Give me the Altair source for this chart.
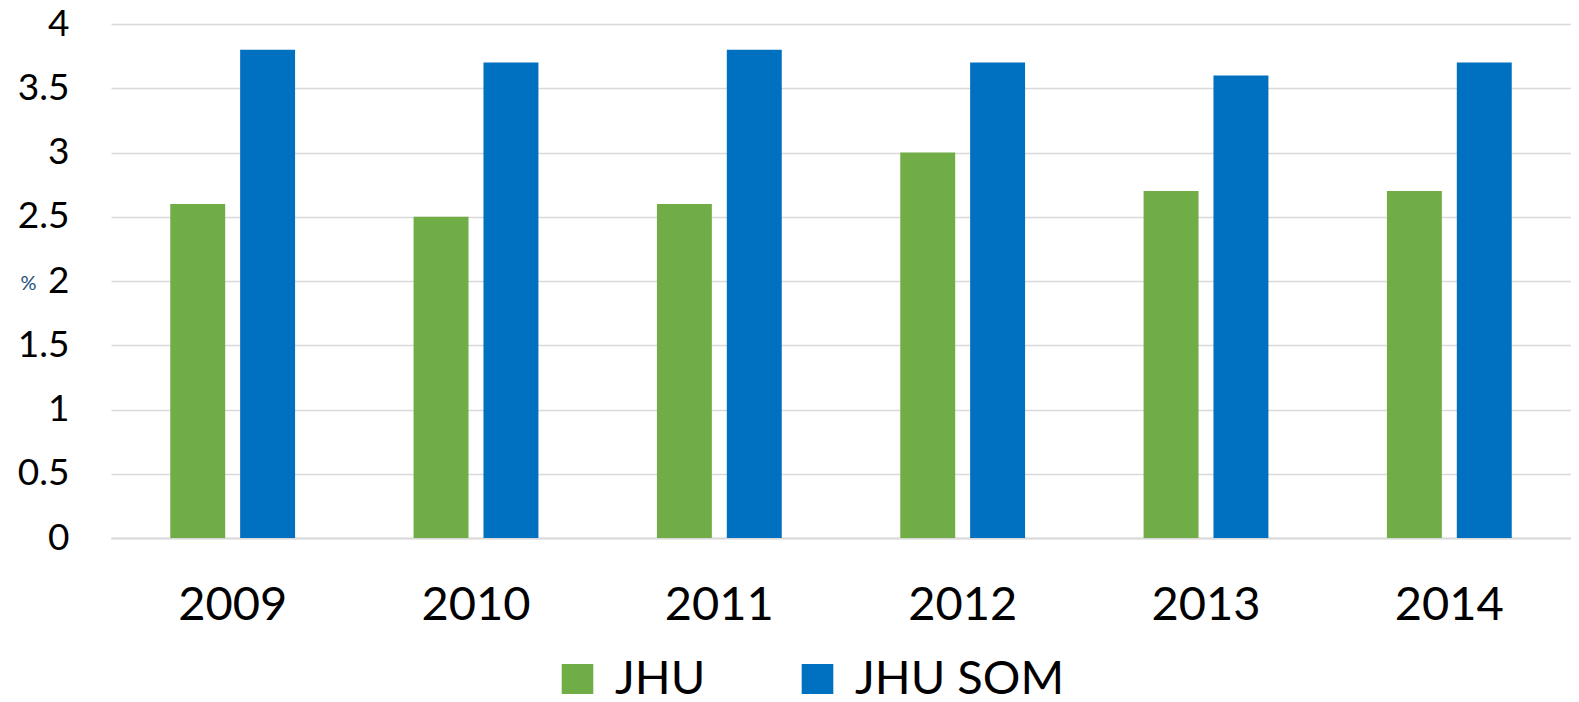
import altair as alt
import pandas as pd

years = ["2009", "2010", "2011", "2012", "2013", "2014"]
jhu = [2.6, 2.5, 2.6, 3.0, 2.7, 2.7]
jhu_som = [3.8, 3.7, 3.8, 3.7, 3.6, 3.7]
series = ["JHU", "JHU SOM"]
colors = ["#70AD47", "#0070C0"]

rows = []
for i, y in enumerate(years):
    rows.append({"year": y, "series": series[0], "value": jhu[i]})
    rows.append({"year": y, "series": series[1], "value": jhu_som[i]})
df = pd.DataFrame(rows)

FONT = "Lato"

chart = alt.Chart(df).mark_bar().encode(
    x=alt.X("year:N", sort=years,
            scale=alt.Scale(paddingInner=0.487, paddingOuter=0.2435),
            axis=alt.Axis(title=None, labelAngle=0, labelFontSize=47, labelFont=FONT,
                          labelColor="#000000", ticks=False, domain=True,
                          domainColor="#d9d9d9", domainWidth=2, labelPadding=44)),
    xOffset=alt.XOffset("series:N", sort=series,
                        scale=alt.Scale(paddingInner=0.214, paddingOuter=0)),
    y=alt.Y("value:Q", scale=alt.Scale(domain=[0, 4], nice=False),
            axis=alt.Axis(title="%", titleAngle=0, titleFontSize=20, titleFont=FONT,
                          titleColor="#1F4E79", titleFontWeight="normal",
                          titleX=-83, titleY=259, titleAlign="center", titleBaseline="middle",
                          values=[0, 0.5, 1, 1.5, 2, 2.5, 3, 3.5, 4], format="~g",
                          labelFontSize=37, labelFont=FONT, labelColor="#000000",
                          labelPadding=42, ticks=False, domain=False,
                          gridColor="#d9d9d9", gridWidth=1.5)),
    color=alt.Color("series:N", sort=series,
                    scale=alt.Scale(domain=series, range=colors),
                    legend=alt.Legend(title=None, orient="none", legendX=443, legendY=632,
                                      direction="horizontal", symbolType="square",
                                      symbolSize=1000, symbolStrokeWidth=0,
                                      labelFontSize=47, labelFont=FONT, labelColor="#000000",
                                      labelOffset=14, columnPadding=88, labelLimit=400)),
).properties(
    width=1460, height=514,
    padding={"left": 103, "top": 16, "right": 0, "bottom": 156},
    autosize=alt.AutoSizeParams(type="none"),
).configure_view(stroke=None)

chart.save("out.html", embed_options={"renderer": "svg", "actions": False})
